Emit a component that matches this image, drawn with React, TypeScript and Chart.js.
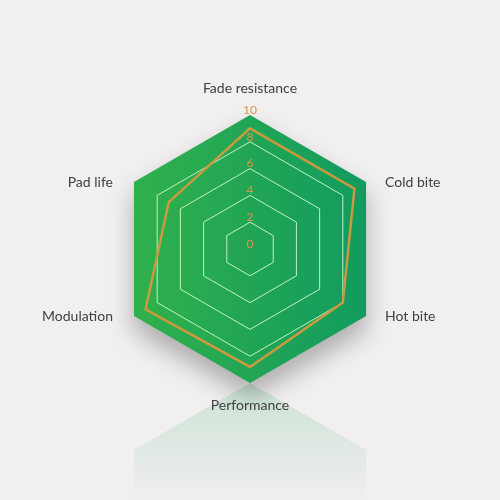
import React, { useEffect, useRef } from "react";
import Chart from "chart.js/auto";

const categories = ["Fade resistance", "Cold bite", "Hot bite", "Performance", "Modulation", "Pad life"];
const ratings = [9, 9, 8, 8.8, 9, 7];
const tickValues = [0, 2, 4, 6, 8, 10];

const BG = "#f1eff0";
const LINE_COLOR = "#c99a3f";
const TICK_COLOR = "#e0924a";
const LABEL_COLOR = "#404040";
const FONT = "Lato, 'Open Sans', sans-serif";

// trace the outer hexagon using the scale's own point positions
const hexPath = (ctx: CanvasRenderingContext2D, scale: any, radius: number) => {
  ctx.beginPath();
  categories.forEach((_, i) => {
    const p = scale.getPointPosition(i, radius);
    if (i === 0) ctx.moveTo(p.x, p.y);
    else ctx.lineTo(p.x, p.y);
  });
  ctx.closePath();
};

const backdropPlugin = {
  id: "hexBackdrop",
  beforeDraw(chart: any) {
    const scale = chart.scales.r;
    const ctx: CanvasRenderingContext2D = chart.ctx;
    const R = scale.drawingArea;
    const cx = scale.xCenter;
    const cy = scale.yCenter;
    const base = cy + R;

    // faded reflection under the bottom vertex
    ctx.save();
    ctx.translate(0, 2 * base);
    ctx.scale(1, -1);
    hexPath(ctx, scale, R);
    const rg = ctx.createLinearGradient(0, base, 0, base - 0.9 * R);
    rg.addColorStop(0, "rgba(40,170,90,0.18)");
    rg.addColorStop(1, "rgba(40,170,90,0.0)");
    ctx.fillStyle = rg;
    ctx.fill();
    ctx.restore();

    // drop shadow + green gradient body
    ctx.save();
    hexPath(ctx, scale, R);
    ctx.shadowColor = "rgba(0,0,0,0.28)";
    ctx.shadowBlur = 24;
    ctx.shadowOffsetY = 14;
    const g = ctx.createLinearGradient(cx - R, 0, cx + R, 0);
    g.addColorStop(0, "#33b24a");
    g.addColorStop(1, "#0f9960");
    ctx.fillStyle = g;
    ctx.fill();
    ctx.restore();
  },
  beforeDatasetsDraw(chart: any) {
    const scale = chart.scales.r;
    const ctx: CanvasRenderingContext2D = chart.ctx;
    ctx.save();
    ctx.font = `12px ${FONT}`;
    ctx.fillStyle = TICK_COLOR;
    ctx.textAlign = "center";
    ctx.textBaseline = "middle";
    tickValues.forEach((v) => {
      const d = scale.getDistanceFromCenterForValue(v);
      ctx.fillText(String(v), scale.xCenter, scale.yCenter - d - 5);
    });
    ctx.restore();
  },
  afterDraw(chart: any) {
    const scale = chart.scales.r;
    const ctx: CanvasRenderingContext2D = chart.ctx;
    const R = scale.drawingArea;
    ctx.save();
    ctx.font = `14px ${FONT}`;
    ctx.fillStyle = LABEL_COLOR;
    ctx.textBaseline = "middle";
    categories.forEach((label, i) => {
      const p = scale.getPointPosition(i, R);
      const dx = p.x - scale.xCenter;
      if (Math.abs(dx) < 1) {
        ctx.textAlign = "center";
        const up = p.y < scale.yCenter;
        ctx.fillText(label, p.x, up ? p.y - 27 : p.y + 22);
      } else if (dx > 0) {
        ctx.textAlign = "left";
        ctx.fillText(label, p.x + 19, p.y);
      } else {
        ctx.textAlign = "right";
        ctx.fillText(label, p.x - 21, p.y);
      }
    });
    ctx.restore();
  },
};

export default function App() {
  const canvasRef = useRef<HTMLCanvasElement>(null);

  useEffect(() => {
    if (!canvasRef.current) return;
    const chart = new Chart(canvasRef.current, {
      type: "radar",
      data: {
        labels: categories,
        datasets: [
          {
            label: "Rating",
            data: ratings,
            borderColor: LINE_COLOR,
            borderWidth: 2.5,
            backgroundColor: "transparent",
            fill: false,
            pointRadius: 0,
            tension: 0,
          },
        ],
      },
      options: {
        responsive: false,
        animation: false,
        layout: { padding: { left: 116, right: 116, top: 115, bottom: 117 } },
        plugins: { legend: { display: false }, tooltip: { enabled: false } },
        scales: {
          r: {
            min: 0,
            max: 10,
            ticks: { stepSize: 2, display: false },
            pointLabels: { display: false },
            angleLines: { display: false },
            grid: {
              lineWidth: 1,
              color: (c: any) =>
                c.tick && c.tick.value === 10 ? "transparent" : "rgba(210,250,205,0.9)",
            },
          },
        },
      },
      plugins: [backdropPlugin],
    });
    return () => {
      chart.destroy();
    };
  }, []);

  return (
    <div style={{ position: "fixed", left: 0, top: 0, width: 500, height: 500, background: BG }}>
      <canvas ref={canvasRef} width={500} height={500} />
    </div>
  );
}
